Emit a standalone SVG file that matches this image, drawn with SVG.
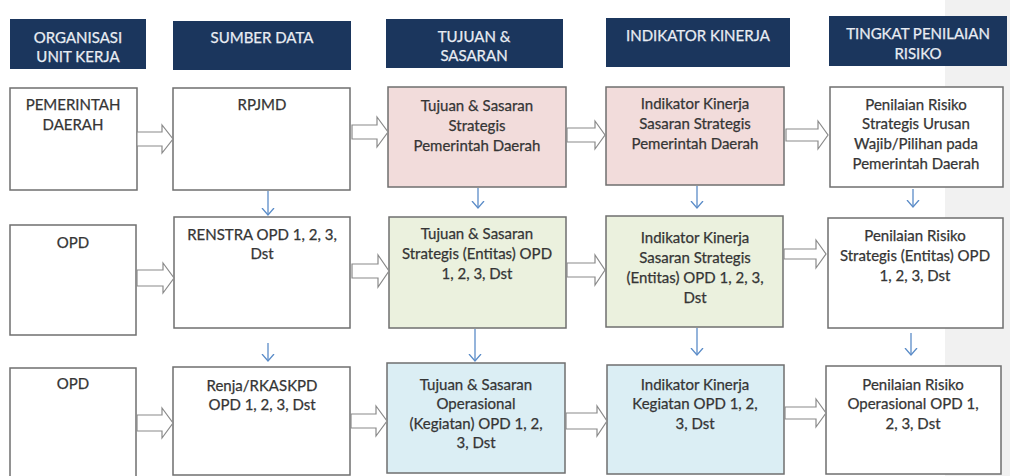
<svg xmlns="http://www.w3.org/2000/svg" width="1010" height="476" viewBox="0 0 1010 476">
<defs>
<style>
.hdr{fill:#1b365d;}
.ht{fill:#e9edf3;stroke:#e9edf3;stroke-width:0.25;font-family:Lato,"Open Sans",sans-serif;font-size:15px;text-anchor:middle;dominant-baseline:central;}
.bx{stroke:#6f6f6f;stroke-width:1.5;}
.w{fill:#ffffff;}
.pk{fill:#f2dcdb;}
.gr{fill:#ebf1de;}
.bl{fill:#dbeef4;}
.t{fill:#353535;stroke:#353535;stroke-width:0.25;font-family:Lato,"Open Sans",sans-serif;font-size:15px;text-anchor:middle;dominant-baseline:central;}
.ba{fill:#ffffff;stroke:#8a8a8a;stroke-width:1.2;stroke-linejoin:miter;}
.da{stroke:#5b8cc8;stroke-width:1.3;fill:none;}
</style>
<marker id="v" viewBox="0 0 8 14" refX="7" refY="7" markerWidth="8" markerHeight="14" markerUnits="userSpaceOnUse" orient="auto">
<path d="M0,1 L7,7 L0,13" fill="none" stroke="#5b8cc8" stroke-width="1.3"/>
</marker>
</defs>
<rect x="0" y="0" width="1010" height="476" fill="#ffffff"/>
<rect x="945" y="0" width="65" height="476" fill="#f1f1f1"/>

<g id="h1"><rect class="hdr" x="10" y="19" width="136" height="50"/><text class="ht" x="78" y="37">ORGANISASI</text><text class="ht" x="78" y="56">UNIT KERJA</text></g>
<g id="h2"><rect class="hdr" x="173" y="21" width="178" height="49"/><text class="ht" x="262" y="37">SUMBER DATA</text></g>
<g id="h3"><rect class="hdr" x="386" y="19" width="177" height="49"/><text class="ht" x="474" y="36">TUJUAN &amp;</text><text class="ht" x="474" y="55">SASARAN</text></g>
<g id="h4"><rect class="hdr" x="606" y="18" width="184" height="49"/><text class="ht" x="698" y="35">INDIKATOR KINERJA</text></g>
<g id="h5"><rect class="hdr" x="829" y="16" width="178" height="50"/><text class="ht" x="918" y="33">TINGKAT PENILAIAN</text><text class="ht" x="918" y="53">RISIKO</text></g>

<g id="r1c1"><rect class="bx w" x="10" y="88" width="127" height="102"/><text class="t" x="73" y="104">PEMERINTAH</text><text class="t" x="73" y="124">DAERAH</text></g>
<g id="r1c2"><rect class="bx w" x="173" y="88" width="177" height="102"/><text class="t" x="262" y="104">RPJMD</text></g>
<g id="r1c3"><rect class="bx pk" x="388" y="87" width="178" height="100"/><text class="t" x="477" y="105">Tujuan &amp; Sasaran</text><text class="t" x="477" y="125">Strategis</text><text class="t" x="477" y="145">Pemerintah Daerah</text></g>
<g id="r1c4"><rect class="bx pk" x="606" y="87" width="178" height="98"/><text class="t" x="695" y="103">Indikator Kinerja</text><text class="t" x="695" y="123">Sasaran Strategis</text><text class="t" x="695" y="143">Pemerintah Daerah</text></g>
<g id="r1c5"><rect class="bx w" x="830" y="87" width="173" height="100"/><text class="t" x="916" y="104">Penilaian Risiko</text><text class="t" x="916" y="123">Strategis Urusan</text><text class="t" x="916" y="143">Wajib/Pilihan pada</text><text class="t" x="916" y="163">Pemerintah Daerah</text></g>

<g id="r2c1"><rect class="bx w" x="10" y="225" width="126" height="110"/><text class="t" x="73" y="242">OPD</text></g>
<g id="r2c2"><rect class="bx w" x="174" y="217" width="176" height="111"/><text class="t" x="262" y="234">RENSTRA OPD 1, 2, 3,</text><text class="t" x="262" y="253">Dst</text></g>
<g id="r2c3"><rect class="bx gr" x="389" y="217" width="177" height="111"/><text class="t" x="477" y="233">Tujuan &amp; Sasaran</text><text class="t" x="477" y="253">Strategis (Entitas) OPD</text><text class="t" x="477" y="273">1, 2, 3, Dst</text></g>
<g id="r2c4"><rect class="bx gr" x="606" y="216" width="177" height="111"/><text class="t" x="695" y="237">Indikator Kinerja</text><text class="t" x="695" y="257">Sasaran Strategis</text><text class="t" x="695" y="277">(Entitas) OPD 1, 2, 3,</text><text class="t" x="695" y="297">Dst</text></g>
<g id="r2c5"><rect class="bx w" x="828" y="218" width="175" height="110"/><text class="t" x="915" y="235">Penilaian Risiko</text><text class="t" x="915" y="255">Strategis (Entitas) OPD</text><text class="t" x="915" y="275">1, 2, 3, Dst</text></g>

<g id="r3c1"><rect class="bx w" x="10" y="368" width="126" height="112"/><text class="t" x="73" y="383">OPD</text></g>
<g id="r3c2"><rect class="bx w" x="173" y="367" width="177" height="108"/><text class="t" x="262" y="385">Renja/RKASKPD</text><text class="t" x="262" y="404">OPD 1, 2, 3, Dst</text></g>
<g id="r3c3"><rect class="bx bl" x="387" y="363" width="178" height="110"/><text class="t" x="476" y="384">Tujuan &amp; Sasaran</text><text class="t" x="476" y="403">Operasional</text><text class="t" x="476" y="423">(Kegiatan) OPD 1, 2,</text><text class="t" x="476" y="442">3, Dst</text></g>
<g id="r3c4"><rect class="bx bl" x="607" y="365" width="177" height="109"/><text class="t" x="695" y="384">Indikator Kinerja</text><text class="t" x="695" y="403">Kegiatan OPD 1, 2,</text><text class="t" x="695" y="423">3, Dst</text></g>
<g id="r3c5"><rect class="bx w" x="826" y="366" width="175" height="108"/><text class="t" x="913" y="384">Penilaian Risiko</text><text class="t" x="913" y="403">Operasional OPD 1,</text><text class="t" x="913" y="423">2, 3, Dst</text></g>

<g id="connectors">
<polygon class="ba" points="137,132 162,132 162,125 173,139 162,153 162,146 137,146"/>
<polygon class="ba" points="352,125 377,125 377,117 388,132 377,147 377,139 352,139"/>
<polygon class="ba" points="567,128 595,128 595,121 605,135 595,149 595,142 567,142"/>
<polygon class="ba" points="786,129 818,129 818,121 828,135 818,149 818,141 786,141"/>

<polygon class="ba" points="137,270 163,270 163,263 174,278 163,293 163,286 137,286"/>
<polygon class="ba" points="352,264 378,264 378,255 389,271 378,287 378,278 352,278"/>
<polygon class="ba" points="567,263 595,263 595,255 605,270 595,285 595,277 567,277"/>
<polygon class="ba" points="784,249 816,249 816,240 826,254 816,268 816,259 784,259"/>

<polygon class="ba" points="137,415 162,415 162,408 173,423 162,438 162,431 137,431"/>
<polygon class="ba" points="351,414 376,414 376,406 387,421 376,436 376,428 351,428"/>
<polygon class="ba" points="566,413 597,413 597,406 607,421 597,436 597,429 566,429"/>
<polygon class="ba" points="785,407 816,407 816,399 826,413 816,427 816,419 785,419"/>

<line class="da" x1="268" y1="191" x2="268" y2="215" marker-end="url(#v)"/>
<line class="da" x1="478" y1="188" x2="478" y2="208" marker-end="url(#v)"/>
<line class="da" x1="697" y1="186" x2="697" y2="208" marker-end="url(#v)"/>
<line class="da" x1="913" y1="189" x2="913" y2="207" marker-end="url(#v)"/>
<line class="da" x1="268" y1="343" x2="268" y2="361" marker-end="url(#v)"/>
<line class="da" x1="475" y1="329" x2="475" y2="361" marker-end="url(#v)"/>
<line class="da" x1="697" y1="328" x2="697" y2="355" marker-end="url(#v)"/>
<line class="da" x1="911" y1="333" x2="911" y2="355" marker-end="url(#v)"/>
</g>
</svg>
